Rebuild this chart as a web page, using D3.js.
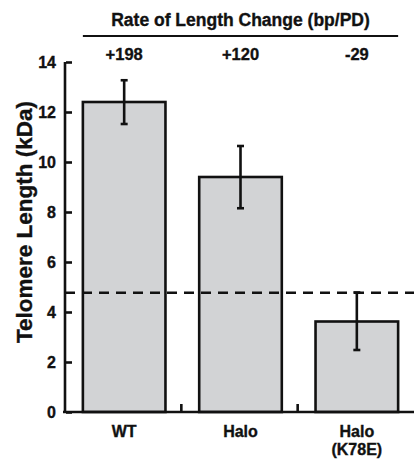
<!doctype html>
<html lang="en">
<head>
<meta charset="UTF-8">
<title>Telomere Length</title>
<style>
  body { margin: 0; background: #fff; }
  svg { display: block; font-family: "Liberation Sans", Arial, sans-serif; font-weight: bold; }
  svg text { stroke: #111; stroke-width: 0.35; }
  .bar { fill: #d2d3d5; stroke: #111; stroke-width: 2.6; }
  .err { stroke: #111; stroke-width: 2.6; fill: none; }
  .axis path, .axis line { stroke: #111; stroke-width: 2.6; }
  .axis text { font-size: 16px; font-weight: bold; fill: #111; font-family: "Liberation Sans", Arial, sans-serif; }
</style>
</head>
<body>
<svg width="414" height="461"></svg>
<script src="https://cdn.jsdelivr.net/npm/d3@7"></script>
<script>
var categories = ['WT', 'Halo', 'Halo\n(K78E)'];
var lengths = [12.4, 9.4, 3.62];
var errLow = [11.52, 8.15, 2.48];
var errHigh = [13.27, 10.64, 4.78];
var rates = ['+198', '+120', '-29'];
var baseline = 4.77;
var yTicks = [0, 2, 4, 6, 8, 10, 12, 14];

var svg = d3.select('svg');
var m = { left: 65, right: 414, top: 62, bottom: 412 };

var x = d3.scaleBand().domain(categories).range([m.left, m.right]).padding(0);
var y = d3.scaleLinear().domain([0, 14]).range([m.bottom, m.top]);
var barW = x.bandwidth() * 0.71;
var cx = function(d) { return x(d) + x.bandwidth() / 2 + 1; };

// bars
svg.selectAll('.bar')
  .data(categories)
  .enter().append('rect')
  .attr('class', 'bar')
  .attr('x', function(d) { return cx(d) - barW / 2; })
  .attr('y', function(d, i) { return y(lengths[i]); })
  .attr('width', barW)
  .attr('height', function(d, i) { return y(0) - y(lengths[i]); });

// dashed baseline
svg.append('line')
  .attr('x1', m.left).attr('x2', m.right)
  .attr('y1', y(baseline)).attr('y2', y(baseline))
  .attr('stroke', '#111').attr('stroke-width', 2.6)
  .attr('stroke-dasharray', '10,7');

// error bars
var eb = svg.selectAll('.eb').data(categories).enter().append('g').attr('class', 'eb');
eb.append('line').attr('class', 'err')
  .attr('x1', cx).attr('x2', cx)
  .attr('y1', function(d, i) { return y(errLow[i]); })
  .attr('y2', function(d, i) { return y(errHigh[i]); });
eb.append('line').attr('class', 'err')
  .attr('x1', function(d) { return cx(d) - 3.5; }).attr('x2', function(d) { return cx(d) + 3.5; })
  .attr('y1', function(d, i) { return y(errHigh[i]); })
  .attr('y2', function(d, i) { return y(errHigh[i]); });
eb.append('line').attr('class', 'err')
  .attr('x1', function(d) { return cx(d) - 3.5; }).attr('x2', function(d) { return cx(d) + 3.5; })
  .attr('y1', function(d, i) { return y(errLow[i]); })
  .attr('y2', function(d, i) { return y(errLow[i]); });

// y axis, ticks pointing inward
var yAxis = svg.append('g')
  .attr('class', 'axis')
  .attr('transform', 'translate(' + m.left + ',0)')
  .call(d3.axisLeft(y).tickValues(yTicks).tickSize(-7).tickSizeOuter(0).tickPadding(9));
yAxis.select('.domain').attr('d', 'M0,' + m.top + 'V' + m.bottom);
yAxis.selectAll('.tick line').attr('x1', 1);

// x axis line with small upward ticks at band boundaries
svg.append('line')
  .attr('x1', m.left - 2).attr('x2', m.right)
  .attr('y1', m.bottom).attr('y2', m.bottom)
  .attr('stroke', '#111').attr('stroke-width', 2.6);
svg.selectAll('.xtick')
  .data(categories.slice(1))
  .enter().append('line')
  .attr('x1', function(d) { return x(d); }).attr('x2', function(d) { return x(d); })
  .attr('y1', m.bottom).attr('y2', m.bottom - 8)
  .attr('stroke', '#111').attr('stroke-width', 2.6);

// category labels
var cl = svg.selectAll('.cat')
  .data(categories)
  .enter().append('text')
  .attr('class', 'cat')
  .attr('text-anchor', 'middle')
  .attr('font-size', 16)
  .attr('fill', '#111');
cl.selectAll('tspan')
  .data(function(d) { return d.split('\n').map(function(t) { return { t: t, c: d }; }); })
  .enter().append('tspan')
  .attr('x', function(d) { return cx(d.c); })
  .attr('y', function(d, i) { return 437 + i * 18; })
  .text(function(d) { return d.t; });

// y axis title
svg.append('text')
  .attr('transform', 'translate(32,' + 222 + ') rotate(-90)')
  .attr('text-anchor', 'middle')
  .attr('font-size', 22.5)
  .attr('fill', '#111')
  .text('Telomere Length (kDa)');

// top header
svg.append('text')
  .attr('x', (cx(categories[0]) - barW / 2 + cx(categories[2]) + barW / 2) / 2)
  .attr('y', 26)
  .attr('text-anchor', 'middle')
  .attr('font-size', 17.5)
  .attr('fill', '#111')
  .text('Rate of Length Change (bp/PD)');
svg.append('line')
  .attr('x1', cx(categories[0]) - barW / 2)
  .attr('x2', cx(categories[2]) + barW / 2)
  .attr('y1', 36).attr('y2', 36)
  .attr('stroke', '#111').attr('stroke-width', 2.2);
svg.selectAll('.rate')
  .data(categories)
  .enter().append('text')
  .attr('class', 'rate')
  .attr('x', cx)
  .attr('y', 60)
  .attr('text-anchor', 'middle')
  .attr('font-size', 16.5)
  .attr('fill', '#111')
  .text(function(d, i) { return rates[i]; });
</script>
</body>
</html>
